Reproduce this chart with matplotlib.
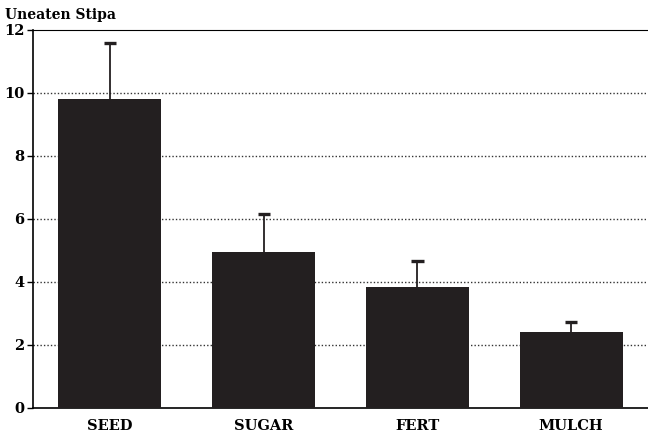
import matplotlib
matplotlib.use("Agg")
import matplotlib.pyplot as plt
import numpy as np

categories = ["SEED", "SUGAR", "FERT", "MULCH"]
means = [9.8, 4.95, 3.85, 2.42]
upper_err = [1.8, 1.2, 0.8, 0.3]
yticks = [0, 2, 4, 6, 8, 10, 12]

plt.rcParams["font.family"] = "DejaVu Serif"
plt.rcParams["font.weight"] = "bold"

fig = plt.figure(figsize=(6.48, 4.41), dpi=100)
ax = fig.add_axes([0.051, 0.075, 0.949, 0.857])

xs = np.arange(len(categories))
ax.bar(xs, means, width=0.67, color="#231f20", zorder=3)
tops = [m + e for m, e in zip(means, upper_err)]
ax.vlines(xs, means, tops, color="#231f20", lw=1.3, zorder=4)
ax.hlines(tops, xs - 0.04, xs + 0.04, color="#231f20", lw=2.4, zorder=4)

for y in yticks[1:-1]:
    ax.axhline(y, color="#333333", ls=(0, (1, 1.5)), lw=1.0, zorder=1)

ax.set_xlim(-0.5, 3.5)
ax.set_ylim(0, 12)
ax.set_yticks(yticks)
ax.set_yticklabels([str(v) for v in yticks], fontsize=10.5, fontweight="heavy")
ax.set_xticks(xs)
ax.set_xticklabels(categories, fontsize=10.5, fontweight="heavy")
ax.tick_params(axis="x", length=0, pad=8)
ax.tick_params(axis="y", length=4, width=1, pad=2)
ax.spines["right"].set_visible(False)
ax.spines["top"].set_linewidth(0.8)
ax.spines["left"].set_linewidth(1.2)
ax.spines["bottom"].set_linewidth(1.2)

fig.text(0.008, 0.965, "Uneaten Stipa", fontsize=10, fontweight="heavy", va="center")

fig.savefig("out.png", dpi=100)
